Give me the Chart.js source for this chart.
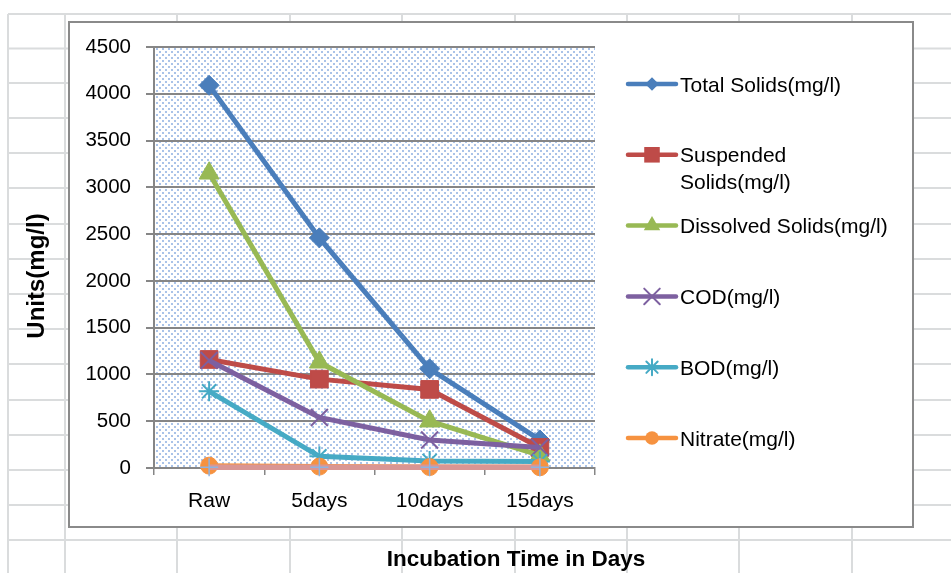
<!DOCTYPE html>
<html>
<head>
<meta charset="utf-8">
<script src="https://cdn.jsdelivr.net/npm/chart.js@4.4.0/dist/chart.umd.min.js"></script>
<style>
html,body{margin:0;padding:0;background:#fff;overflow:hidden;}
canvas{display:block;}
</style>
</head>
<body>
<canvas id="c" width="951" height="573"></canvas>
<script>
// ---- data ----
const categories = ['Raw', '5days', '10days', '15days'];
const totalSolids = [4090, 2460, 1060, 300];
const suspendedSolids = [1160, 950, 840, 220];
const dissolvedSolids = [3150, 1130, 500, 135];
const cod = [1150, 540, 300, 220];
const bod = [820, 125, 75, 70];
const nitrate = [25, 15, 10, 8];
const extraSeries = [7, 7, 7, 7];
const seriesNames = ['Total Solids(mg/l)', 'Suspended Solids(mg/l)', 'Dissolved Solids(mg/l)', 'COD(mg/l)', 'BOD(mg/l)', 'Nitrate(mg/l)', ''];
const legendLines = [['Total Solids(mg/l)'], ['Suspended', 'Solids(mg/l)'], ['Dissolved Solids(mg/l)'], ['COD(mg/l)'], ['BOD(mg/l)'], ['Nitrate(mg/l)']];
const yMin = 0, yMax = 4500, yStep = 500;
const xTitle = 'Incubation Time in Days';
const yTitle = 'Units(mg/l)';

// ---- styles ----
const FONT = '"Liberation Sans", Arial, sans-serif';
const GRID = '#868686';
const styles = [
  {color:'#4A7EBB', point:'rectRot',  r:10,  lr:6.8, bw:1},
  {color:'#BE4B48', point:'rect',     r:12.5,lr:11,  bw:1},
  {color:'#98B954', point:'triangle', r:11.5,lr:9.5, bw:1},
  {color:'#7D60A0', point:'crossRot', r:12,  lr:11,  bw:2},
  {color:'#46AAC5', point:'star',     r:10,  lr:8,   bw:2},
  {color:'#F69240', point:'circle',   r:8.5, lr:6.8, bw:1},
  {color:'#D99694', point:'cross',    r:9,   lr:0,   bw:1.5, pointColor:'#8DB3E2', width:5.5}
];
const seriesValues = [totalSolids, suspendedSolids, dissolvedSolids, cod, bod, nitrate, extraSeries];

// dotted pattern for plot area
function makePattern(ctx){
  const t = document.createElement('canvas');
  t.width = 6; t.height = 6;
  const c = t.getContext('2d');
  c.fillStyle = '#ffffff'; c.fillRect(0,0,6,6);
  c.fillStyle = 'rgba(85,135,210,0.5)';
  c.fillRect(0,0,2,2);
  c.fillRect(3,3,2,2);
  return ctx.createPattern(t, 'repeat');
}

function drawMarker(ctx, style, x, y, r, color, bw){
  ctx.save();
  ctx.fillStyle = color; ctx.strokeStyle = color; ctx.lineWidth = bw;
  ctx.beginPath();
  let o;
  switch(style){
    case 'rectRot':
      ctx.moveTo(x-r,y); ctx.lineTo(x,y-r); ctx.lineTo(x+r,y); ctx.lineTo(x,y+r); ctx.closePath(); ctx.fill(); break;
    case 'rect':
      o = r*Math.SQRT1_2; ctx.rect(x-o,y-o,2*o,2*o); ctx.fill(); break;
    case 'triangle':
      ctx.moveTo(x, y-r); ctx.lineTo(x+r*0.866, y+r/2); ctx.lineTo(x-r*0.866, y+r/2); ctx.closePath(); ctx.fill(); break;
    case 'circle':
      ctx.arc(x,y,r,0,Math.PI*2); ctx.fill(); break;
    case 'crossRot':
      o = r*Math.SQRT1_2;
      ctx.moveTo(x-o,y-o); ctx.lineTo(x+o,y+o); ctx.moveTo(x+o,y-o); ctx.lineTo(x-o,y+o); ctx.stroke(); break;
    case 'star':
      o = r*Math.SQRT1_2;
      ctx.moveTo(x-o,y-o); ctx.lineTo(x+o,y+o); ctx.moveTo(x+o,y-o); ctx.lineTo(x-o,y+o);
      ctx.moveTo(x,y-r); ctx.lineTo(x,y+r); ctx.moveTo(x-r,y); ctx.lineTo(x+r,y); ctx.stroke(); break;
  }
  ctx.restore();
}

const colXs = [8, 65, 177, 290, 402, 515, 627, 739, 852];
const rowYs = [14, 48.5, 83, 118, 153, 188, 224, 259, 294, 329, 364, 400, 435, 470, 505, 540];

const sheetPlugin = {
  id: 'sheet',
  beforeDraw(chart){
    const ctx = chart.ctx;
    ctx.save();
    ctx.fillStyle = '#ffffff'; ctx.fillRect(0,0,chart.width,chart.height);
    ctx.strokeStyle = '#DADCDD'; ctx.lineWidth = 2;
    colXs.forEach(x => { ctx.beginPath(); ctx.moveTo(x,14); ctx.lineTo(x,chart.height); ctx.stroke(); });
    rowYs.forEach(y => { ctx.beginPath(); ctx.moveTo(8,y); ctx.lineTo(chart.width,y); ctx.stroke(); });
    // chart area box
    ctx.fillStyle = '#ffffff'; ctx.fillRect(69,22,844,505);
    ctx.strokeStyle = '#8A8A8A'; ctx.lineWidth = 2; ctx.strokeRect(69,22,844,505);
    // plot area pattern
    const a = chart.chartArea;
    ctx.fillStyle = makePattern(ctx);
    ctx.fillRect(a.left, a.top, a.right - a.left, a.bottom - a.top);
    ctx.restore();
  },
  afterDraw(chart){
    const ctx = chart.ctx;
    ctx.save();
    // legend
    const startY = 84, stepY = 70.8, x0 = 628, x1 = 676, tx = 680;
    ctx.font = '21px ' + FONT;
    ctx.fillStyle = '#000';
    ctx.textAlign = 'left';
    ctx.textBaseline = 'alphabetic';
    legendLines.forEach((lines, i) => {
      const y = startY + i*stepY;
      const s = styles[i];
      ctx.strokeStyle = s.color; ctx.lineWidth = 4.5; ctx.lineCap = 'round';
      ctx.beginPath(); ctx.moveTo(x0,y); ctx.lineTo(x1,y); ctx.stroke();
      drawMarker(ctx, s.point, (x0+x1)/2, y, s.lr, s.color, s.bw);
      lines.forEach((t, k) => ctx.fillText(t, tx, y + 7.5 + k*27));
    });
    // axis titles
    ctx.font = 'bold 22.5px ' + FONT;
    ctx.textAlign = 'center';
    ctx.fillText(xTitle, 516, 566);
    ctx.translate(44, 276);
    ctx.rotate(-Math.PI/2);
    ctx.font = 'bold 24px ' + FONT;
    ctx.fillText(yTitle, 0, 0);
    ctx.restore();
  }
};

const datasets = seriesValues.map((vals, i) => {
  const s = styles[i];
  return {
    label: seriesNames[i],
    data: vals,
    borderColor: s.color,
    backgroundColor: s.pointColor || s.color,
    pointBackgroundColor: s.pointColor || s.color,
    pointBorderColor: s.pointColor || s.color,
    pointStyle: s.point,
    pointRadius: s.r,
    pointHoverRadius: s.r,
    pointBorderWidth: s.bw,
    borderWidth: s.width || 5,
    tension: 0,
    fill: false,
    clip: false,
    order: seriesValues.length - i
  };
});

new Chart(document.getElementById('c'), {
  type: 'line',
  data: { labels: categories, datasets },
  options: {
    responsive: false,
    animation: false,
    devicePixelRatio: 1,
    layout: { padding: { top: 47, right: 356, bottom: 0, left: 0 } },
    plugins: { legend: { display: false }, tooltip: { enabled: false }, title: { display: false } },
    scales: {
      x: {
        type: 'category',
        offset: true,
        grid: { display: true, drawOnChartArea: false, drawTicks: true, tickLength: 7, color: GRID, lineWidth: 1.5, offset: true },
        border: { display: true, color: GRID, width: 2 },
        ticks: { color: '#000', font: { family: FONT, size: 21 }, padding: 14, maxRotation: 0, autoSkip: false },
        afterFit(s){ s.height = 105; }
      },
      y: {
        min: yMin, max: yMax,
        grid: { color: GRID, lineWidth: 2, tickLength: 8 },
        border: { display: true, color: GRID, width: 2 },
        ticks: { stepSize: yStep, color: '#000', font: { family: FONT, size: 20.5 }, padding: 15,
                 callback: v => String(v) },
        afterFit(s){ s.width = 154; }
      }
    }
  },
  plugins: [sheetPlugin]
});
</script>
</body>
</html>
